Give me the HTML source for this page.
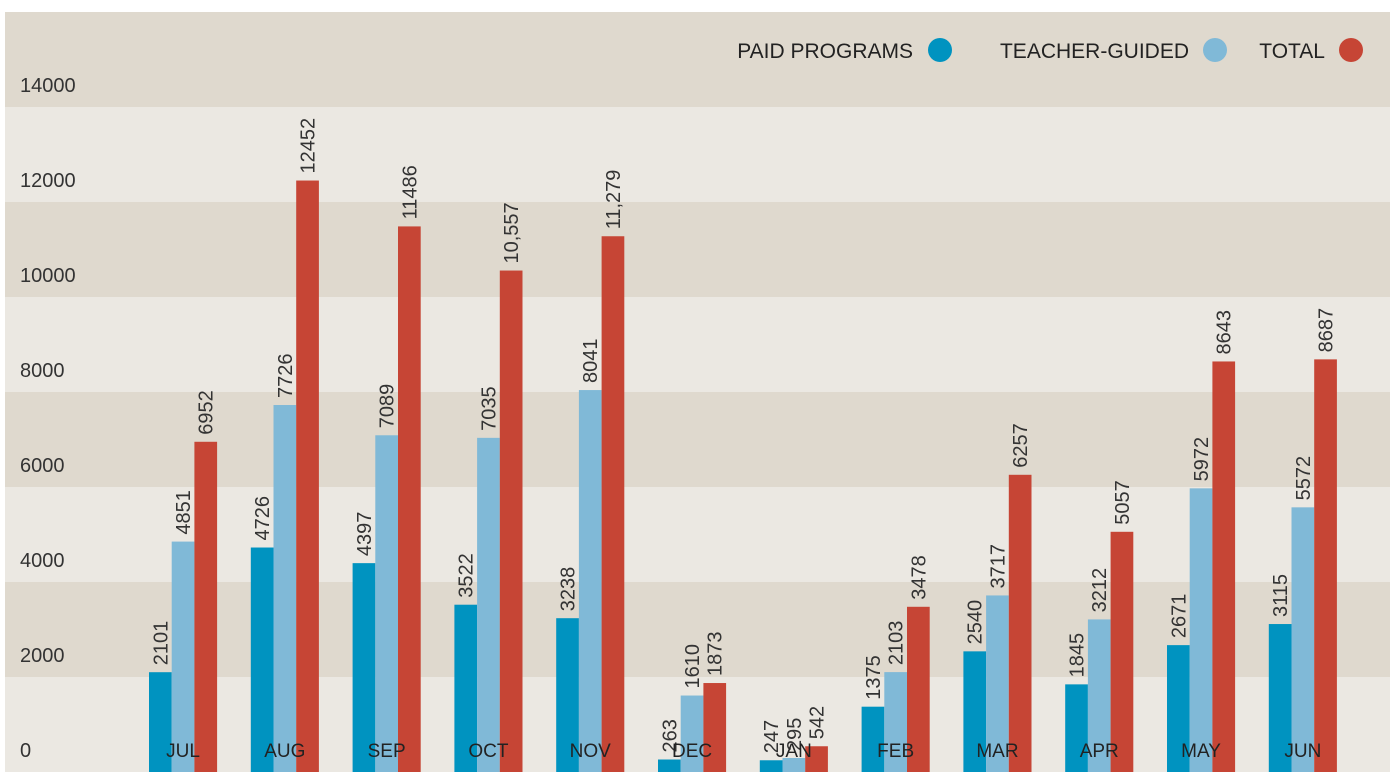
<!DOCTYPE html>
<html><head><meta charset="utf-8"><style>
html,body{margin:0;padding:0;background:#fff;}
svg{display:block;font-family:"Liberation Sans",sans-serif;}
</style></head><body>
<svg id="chart" width="1400" height="778" viewBox="0 0 1400 778" xmlns="http://www.w3.org/2000/svg">
<g id="bands"></g>
<g id="yaxis"></g>
<g id="bars"></g>
<g id="labels"></g>
<g id="xaxis"></g>
<g font-size="21" fill="#222" text-anchor="end">
  <text x="913" y="58">PAID PROGRAMS</text>
  <circle cx="940" cy="50" r="12" fill="#0093c0"/>
  <text x="1189" y="58">TEACHER-GUIDED</text>
  <circle cx="1215" cy="50" r="12" fill="#80b9d7"/>
  <text x="1325" y="58">TOTAL</text>
  <circle cx="1351" cy="50" r="12" fill="#c64535"/>
</g>
</svg>
<script>
const months = ["JUL","AUG","SEP","OCT","NOV","DEC","JAN","FEB","MAR","APR","MAY","JUN"];
const paid = [2101,4726,4397,3522,3238,263,247,1375,2540,1845,2671,3115];
const teacher = [4851,7726,7089,7035,8041,1610,295,2103,3717,3212,5972,5572];
const total = [6952,12452,11486,10557,11279,1873,542,3478,6257,5057,8643,8687];
const totalLabels = ["6952","12452","11486","10,557","11,279","1873","542","3478","6257","5057","8643","8687"];
const yTicks = [0,2000,4000,6000,8000,10000,12000,14000];

const NS="http://www.w3.org/2000/svg";
const y0=772, pxPerUnit=95/2000;
function yScale(v){return y0 - v*pxPerUnit;}
function xGroup(i){return 149 + i*101.8;}
const bw=22.7;
function mk(tag,attrs,parent){const e=document.createElementNS(NS,tag);for(const k in attrs)e.setAttribute(k,attrs[k]);parent.appendChild(e);return e;}

const bands=document.getElementById('bands');
for(let i=0;i<8;i++){
  const top = (i===7)?12:yScale((i+1)*2000);
  const bot = yScale(i*2000);
  const r=mk('rect',{x:5,y:top,width:1385,height:bot-top,fill:(i%2===0)?'#ebe8e2':'#dfd9ce'},bands);
  
  
}
const yaxis=document.getElementById('yaxis');
yTicks.forEach(v=>{
  const t=mk('text',{x:20,y:yScale(v)-15,'font-size':20,fill:'#333'},yaxis);
  t.textContent=v;
  
  
});
const bars=document.getElementById('bars'), labels=document.getElementById('labels'), xaxis=document.getElementById('xaxis');
const series=[{d:paid,c:'#0093c0',n:'paid'},{d:teacher,c:'#80b9d7',n:'teacher'},{d:total,c:'#c64535',n:'total'}];
months.forEach((m,i)=>{
  series.forEach((s,j)=>{
    const v=s.d[i], x=xGroup(i)+j*bw, y=yScale(v);
    const r=mk('rect',{x:x,y:y,width:bw,height:y0-y,fill:s.c},bars);
    
    
    const lx=x+bw/2+7, ly=y-7;
    const t=mk('text',{x:lx,y:ly,'font-size':20,fill:'#333',transform:'rotate(-90 '+lx+' '+ly+')'},labels);
    t.textContent = s.n==='total'?totalLabels[i]:String(v);
    
    
  });
  const t=mk('text',{x:xGroup(i)+bw*1.5,y:757,'font-size':19,fill:'#222','text-anchor':'middle'},xaxis);
  t.textContent=m;
  
  
});
</script>
</body></html>
